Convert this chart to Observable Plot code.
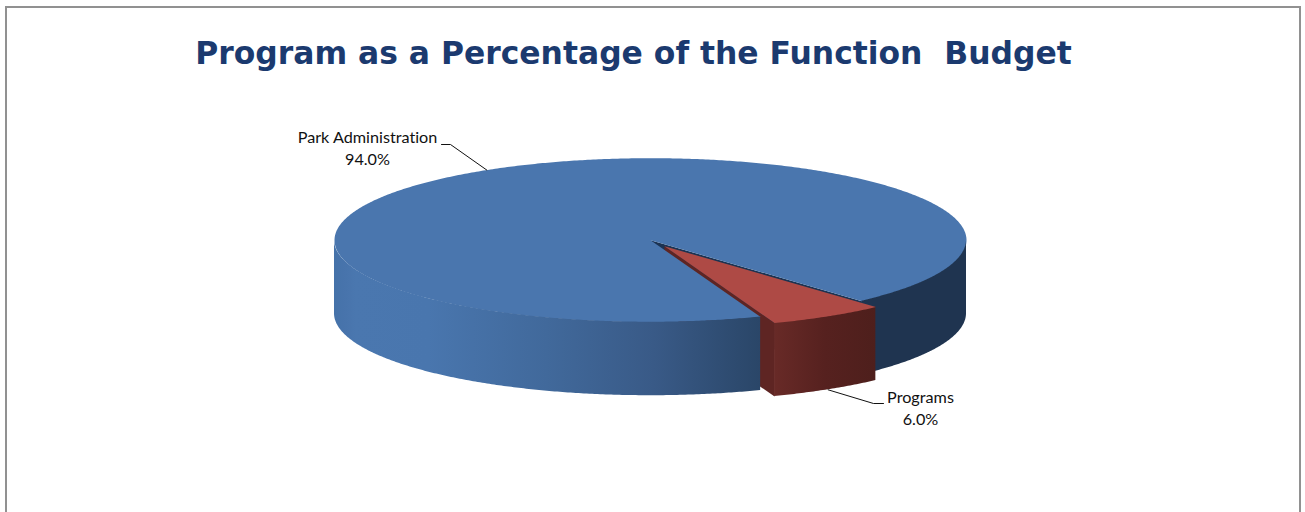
<!DOCTYPE html>
<html>
<head>
<meta charset="utf-8">
<script src="https://cdn.jsdelivr.net/npm/d3@7"></script>
<script src="https://cdn.jsdelivr.net/npm/@observablehq/plot@0.6"></script>
<style>
  html, body { margin: 0; padding: 0; background: #fff; overflow: hidden; }
  #stage { position: relative; width: 1305px; height: 512px; overflow: hidden; }
  #border { position: absolute; left: 5px; top: 6px; width: 1296px; height: 520px; border: 2px solid #919191; box-sizing: border-box; }
  #title { position: absolute; left: 0; top: 34px; width: 1267px; text-align: center; white-space: pre;
           font: bold 31.4px "DejaVu Sans", Verdana, sans-serif; color: #1b3a6f; margin: 0; line-height: 38px; }
  #chart { position: absolute; left: 0; top: 0; }
  #chart svg { background: transparent; display: block; }
  #chart svg text { font-variant-ligatures: none; }
</style>
</head>
<body>
<div id="stage">
  <div id="border"></div>
  <h2 id="title"></h2>
  <div id="chart"></div>
</div>
<script>
const chartTitle = "Program as a Percentage of the Function  Budget";
const categories = ["Park Administration", "Programs"];
const percentages = [94.0, 6.0];

// pie construction (unit radius coordinates)
const startAngle = 48;      // degrees clockwise from 3 o'clock where the Programs slice begins
const tilt = 82 / 316;
const depth = 73.5 / 316;
const explode = 0.085;
const R = 316, cx = 650, cy = 239.7, W = 1305, H = 512;

const rad = d => d * Math.PI / 180;
const total = d3.sum(percentages);
const progSweep = percentages[1] / total * 360;
const progStart = startAngle, progEnd = startAngle + progSweep;
const parkStart = progEnd, parkEnd = startAngle + 360;
const progMid = (progStart + progEnd) / 2, parkMid = (parkStart + parkEnd) / 2;
const ox = explode * Math.cos(rad(progMid)), oy = explode * Math.sin(rad(progMid)) * tilt;

const pt = (a, dx = 0, dy = 0, dz = 0) => ({x: dx + Math.cos(rad(a)), y: dy + Math.sin(rad(a)) * tilt + dz});
const arc = (a0, a1, dx = 0, dy = 0, dz = 0) => {
  const n = Math.ceil(Math.abs(a1 - a0) * 2);
  return d3.range(n + 1).map(i => pt(a0 + (a1 - a0) * i / n, dx, dy, dz));
};
const band = (a0, a1, dx = 0, dy = 0) => arc(a0, a1, dx, dy).map(p => ({x: p.x, y1: p.y, y2: p.y + depth}));
const wall = (a, dx = 0, dy = 0) => {
  const e = pt(a, dx, dy);
  return [{x: dx, y: dy}, e, {x: e.x, y: e.y + depth}, {x: dx, y: dy + depth}];
};

const parkTop = [{x: 0, y: 0}, ...arc(parkStart, parkEnd)];
const progTop = [{x: ox, y: oy}, ...arc(progStart, progEnd, ox, oy)];

const px = v => (v - cx) / R, py = v => (v - cy) / R;
const parkEdge = pt(parkMid);
const progEdge = pt(progMid, ox, oy, depth);
const parkLeader = [parkEdge, {x: px(450), y: py(144)}, {x: px(441), y: py(144)}];
const progLeader = [progEdge, {x: px(873), y: py(403)}, {x: px(883), y: py(403)}];

const labels = [
  {x: px(367), y: py(146.5), text: `${categories[0]}\n${percentages[0].toFixed(1)}%`},
  {x: px(920), y: py(406.5), text: `${categories[1]}\n${percentages[1].toFixed(1)}%`}
];

const defs = () => {
  const ns = "http://www.w3.org/2000/svg";
  const d = document.createElementNS(ns, "defs");
  const grad = (id, stops) => {
    const g = document.createElementNS(ns, "linearGradient");
    g.setAttribute("id", id);
    for (const [o, c] of stops) {
      const s = document.createElementNS(ns, "stop");
      s.setAttribute("offset", o);
      s.setAttribute("stop-color", c);
      g.appendChild(s);
    }
    d.appendChild(g);
  };
  grad("blueFront", [[0, "#4572a9"], [0.03, "#4874ac"], [0.05, "#4a77af"], [0.22, "#4976ae"],
                     [0.5, "#41699b"], [0.75, "#395a87"], [1, "#2a4668"]]);
  grad("redFront", [[0, "#682a27"], [0.5, "#56211f"], [1, "#4e1f1c"]]);
  return d;
};

const poly = (data, fill) => Plot.line(data, {x: "x", y: "y", fill, stroke: "none", curve: "linear"});
const side = (data, fill) => Plot.area(data, {x1: "x", y1: "y1", y2: "y2", fill, curve: "linear"});

const plot = Plot.plot({
  width: W, height: H, margin: 0,
  x: {axis: null, domain: [px(0), px(W)], range: [0, W]},
  y: {axis: null, domain: [py(0), py(H)], range: [0, H]},
  marks: [
    defs,
    // inner walls seen through the notch
    poly(wall(progStart), "#1c3352"),
    poly(wall(progEnd, ox, oy), "#5e2523"),
    // Park Administration top and outer side
    poly(parkTop, "#4a76ae"),
    side(band(0, progStart), "#1f3450"),
    side(band(parkStart, 180), "url(#blueFront)"),
    // Programs top and outer side
    side(band(progStart, progEnd, ox, oy), "url(#redFront)"),
    poly(progTop, "#ae4a45"),
    // leaders and labels
    Plot.line(parkLeader, {x: "x", y: "y", stroke: "#111", strokeWidth: 1, curve: "linear"}),
    Plot.line(progLeader, {x: "x", y: "y", stroke: "#111", strokeWidth: 1, curve: "linear"}),
    Plot.text(labels, {x: "x", y: "y", text: "text", fontSize: 16.2, lineHeight: 1.36, fill: "#111",
                       fontFamily: "Lato, 'Open Sans', sans-serif", textAnchor: "middle"})
  ]
});
document.getElementById("title").textContent = chartTitle;
document.getElementById("chart").appendChild(plot);
</script>
</body>
</html>
